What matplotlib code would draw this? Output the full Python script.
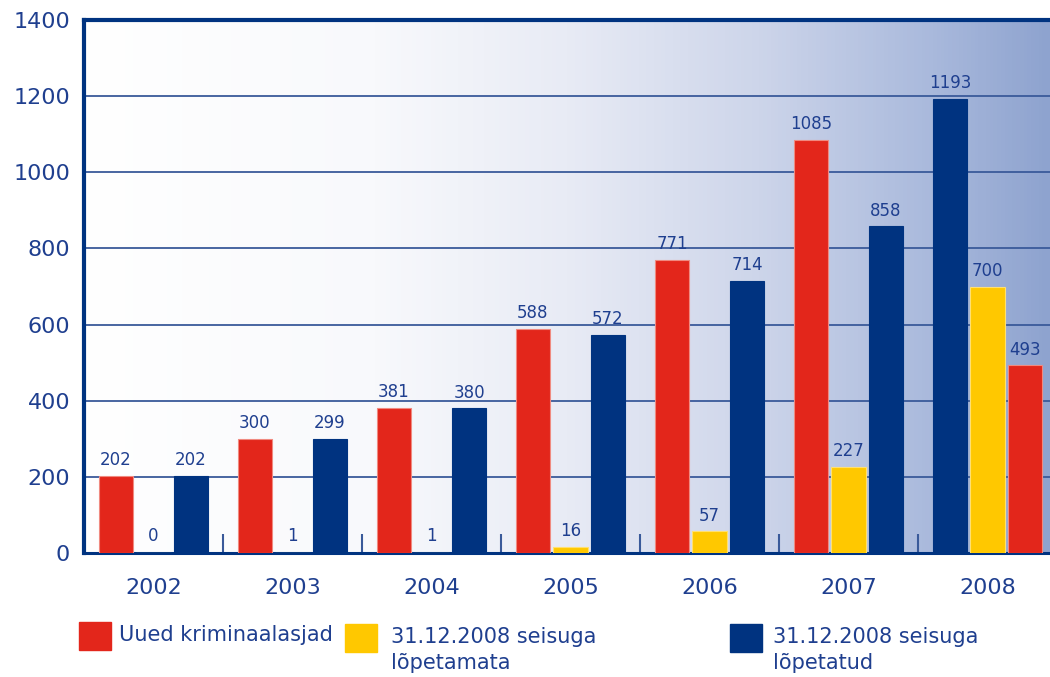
import numpy as np
import matplotlib.pyplot as plt
from matplotlib.colors import LinearSegmentedColormap
from matplotlib.patches import Rectangle

years = ['2002', '2003', '2004', '2005', '2006', '2007', '2008']
uued = [202, 300, 381, 588, 771, 1085, 493]
lopetamata = [0, 1, 1, 16, 57, 227, 700]
lopetatud = [202, 299, 380, 572, 714, 858, 1193]

RED = '#e3261b'
YELLOW = '#ffc800'
BLUE = '#003380'
TXT = '#1f3f8f'
GRID = '#3a5a9a'

plt.rcParams['font.family'] = ['DejaVu Sans']

fig = plt.figure(figsize=(10.5, 6.77), dpi=100)
ax = fig.add_axes([0.08, 0.183, 0.92, 0.7875])

# horizontal gradient background
bg = LinearSegmentedColormap.from_list('bg', [
    (0.0, '#ffffff'), (0.3, '#f8f9fc'), (0.5, '#e8ebf5'),
    (0.7, '#cdd5ea'), (0.88, '#a9b9dc'), (1.0, '#8ea3cf')])
ax.imshow(np.linspace(0, 1, 256).reshape(1, -1), cmap=bg, aspect='auto',
          extent=[0, 1, 0, 1], transform=ax.transAxes, zorder=0)

x = np.arange(len(years))
w = 0.25
step = 0.27
# in the source chart the 2008 group has blue first and red last
red_off = np.array([-step] * 6 + [step])
blue_off = -red_off

series = [(uued, red_off, RED, '#f08a80'),
          (lopetamata, np.zeros(len(years)), YELLOW, '#ffe070'),
          (lopetatud, blue_off, BLUE, BLUE)]
for vals, off, col, edge in series:
    bars = ax.bar(x + off, vals, width=w, color=col, edgecolor=edge,
                  linewidth=0.8, zorder=3)
    for b, v in zip(bars, vals):
        ax.text(b.get_x() + b.get_width() / 2, max(v, 4) + 18, str(v),
                ha='center', va='bottom', fontsize=12, color=TXT, zorder=4)

ax.set_xlim(-0.5, 6.45)
ax.set_ylim(0, 1400)
ax.set_yticks(range(0, 1401, 200))
for yv in range(200, 1400, 200):
    ax.axhline(yv, color=GRID, lw=1.3, zorder=1)

ax.set_xticks(x)
ax.set_xticklabels(years)
ax.set_xticks(x[:-1] + 0.5, minor=True)
ax.tick_params(axis='x', which='major', length=0, pad=18, labelsize=16,
               labelcolor=TXT)
ax.tick_params(axis='x', which='minor', direction='in', length=14,
               width=1.5, color=GRID)
ax.tick_params(axis='y', length=0, pad=10, labelsize=16, labelcolor=TXT)
for lab in ax.get_yticklabels():
    lab.set_verticalalignment('center_baseline')

for side in ['left', 'top']:
    ax.spines[side].set_color(BLUE)
    ax.spines[side].set_linewidth(3)
ax.spines['bottom'].set_color(BLUE)
ax.spines['bottom'].set_linewidth(2.2)
ax.spines['right'].set_visible(False)
ax.spines['top'].set_zorder(5)

# legend drawn by hand, laid out like the original (pixel positions)
def legend_item(x0, y0, x_text, color, label):
    fig.patches.append(Rectangle((x0 / 1050, 1 - (y0 + 28) / 677),
                                 32 / 1050, 28 / 677, color=color,
                                 transform=fig.transFigure))
    fig.text(x_text / 1050, 1 - (y0 + 3) / 677, label, ha='left',
             va='top', fontsize=15, color=TXT, linespacing=1.4)

legend_item(79, 622, 119, RED, 'Uued kriminaalasjad')
legend_item(345, 624, 391, YELLOW, '31.12.2008 seisuga\nlõpetamata')
legend_item(730, 624, 773, BLUE, '31.12.2008 seisuga\nlõpetatud')

fig.savefig('out.png', dpi=100)
